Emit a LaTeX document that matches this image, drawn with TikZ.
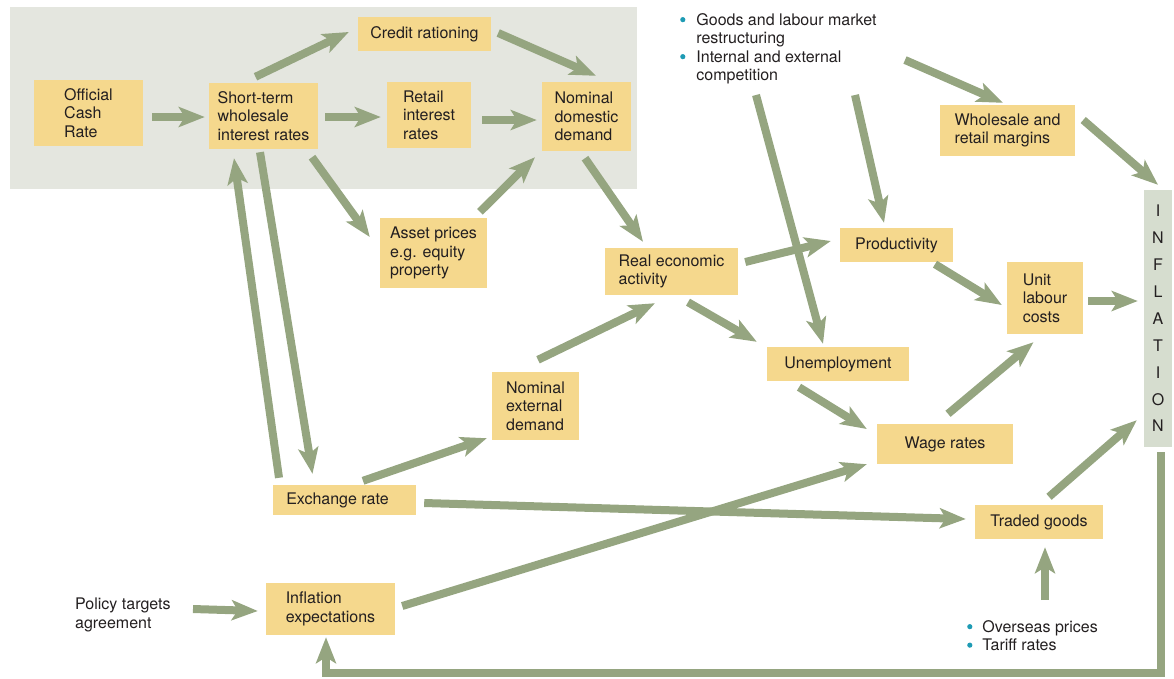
\documentclass[tikz,border=0pt]{standalone}
\usepackage{fontspec}
\setmainfont{TeX Gyre Heros}
\usetikzlibrary{arrows.meta,calc}
\definecolor{arrc}{RGB}{149,165,128}
\definecolor{boxc}{RGB}{245,216,141}
\definecolor{panelc}{RGB}{228,230,223}
\definecolor{inflc}{RGB}{214,221,207}
\definecolor{bulc}{RGB}{30,155,180}
\definecolor{txtc}{RGB}{35,31,32}
\newcommand{\bul}{\tikz[x=1pt,y=1pt,baseline=-5.5pt]\fill[bulc] (2.6,0) circle (2.6pt);}
\begin{document}
\begin{tikzpicture}[x=1pt,y=-1pt,
  every node/.style={font=\fontsize{16}{18.5}\selectfont, text=txtc},
  box/.style={fill=boxc, inner sep=0pt, align=left},
  plain/.style={inner sep=0pt, align=left},
  arr/.style={draw=arrc, line width=8pt, -{Stealth[length=26pt,width=20pt,inset=6pt]}},
]
\useasboundingbox (0,0) rectangle (1174,678);
\fill[panelc] (10,7) rectangle (637,189);

% boxes
\node[box, minimum width=109pt, minimum height=66pt] (ocr) at (88.5,113) {Official\\Cash\\Rate};
\node[box, minimum width=109pt, minimum height=66pt] (stw) at (263.5,116) {Short-term\\wholesale\\interest rates};
\node[box, minimum width=133pt, minimum height=34pt] (credit) at (424.5,34) {Credit rationing};
\node[box, minimum width=84pt, minimum height=66pt] (retail) at (429,115) {Retail\\interest\\rates};
\node[box, minimum width=89pt, minimum height=69pt] (ndd) at (586.5,116.5) {Nominal\\domestic\\demand};
\node[box, minimum width=107pt, minimum height=70pt] (asset) at (433.5,253) {Asset prices\\e.g. equity\\property};
\node[box, minimum width=133pt, minimum height=47pt] (real) at (671.5,271.5) {Real economic\\activity};
\node[box, minimum width=113pt, minimum height=34pt] (prod) at (896.5,245) {Productivity};
\node[box, minimum width=135pt, minimum height=51pt] (whole) at (1007.5,130.5) {Wholesale and\\retail margins};
\node[box, minimum width=76pt, minimum height=72pt] (ulc) at (1045,298) {Unit\\labour\\costs};
\node[fill=inflc, inner sep=0pt, align=center, minimum width=28pt, minimum height=257pt,
      font=\fontsize{16}{26.9}\selectfont] (infl) at (1158,318.5) {I\\N\\F\\L\\A\\T\\I\\O\\N};
\node[box, minimum width=142pt, minimum height=34pt] (unemp) at (838,364) {Unemployment};
\node[box, minimum width=87pt, minimum height=68pt] (ned) at (535.5,406) {Nominal\\external\\demand};
\node[box, minimum width=136pt, minimum height=40pt] (wage) at (945,444) {Wage rates};
\node[box, minimum width=143pt, minimum height=30pt] (exch) at (344.5,500) {Exchange rate\hspace{14pt}};
\node[box, minimum width=128pt, minimum height=34pt] (traded) at (1039,522) {Traded goods};
\node[box, minimum width=129pt, minimum height=52pt] (infexp) at (330.5,609) {Inflation\\expectations};

% plain texts
\node[plain, anchor=north west] (pol) at (75,598) {Policy targets\\agreement};
\node[plain, anchor=north west] (topb) at (680,12) {%
  \begin{tabular}{@{}l@{\hspace{11pt}}l@{}}
  \bul & Goods and labour market\\
       & restructuring\\
  \bul & Internal and external\\
       & competition
  \end{tabular}};
\node[plain, anchor=north west] (botb) at (967,619) {%
  \begin{tabular}{@{}l@{\hspace{10pt}}l@{}}
  \bul & Overseas prices\\
  \bul & Tariff rates
  \end{tabular}};

% arrows
\draw[arr] ([shift={(9,4)}]ocr.east) -- ([shift={(-4,1)}]stw.west);
\draw[arr] ([shift={(-8,-6)}]stw.north) -- ([shift={(-9,-2)}]credit.west);
\draw[arr] ([shift={(7,1)}]stw.east) -- ([shift={(-6,2)}]retail.west);
\draw[arr] ([shift={(7,-1)}]credit.east) -- ([shift={(9.5,-6)}]ndd.north);
\draw[arr] ([shift={(11,5)}]retail.east) -- ([shift={(-5,3.5)}]ndd.west);
\draw[arr] ([shift={(48.5,8)}]stw.south) -- ([shift={(-10,-16)}]asset.west);
\draw[arr] ([shift={(46.5,-6)}]asset.north) -- ([shift={(-51.5,6)}]ndd.south);
\draw[arr] ([shift={(-1.5,7)}]ndd.south) -- ([shift={(-28.5,-6)}]real.north);
\draw[arr] ([shift={(-65.5,-7)}]exch.north) -- ([shift={(-29.5,9)}]stw.south);
\draw[arr] ([shift={(-3.5,3)}]stw.south) -- ([shift={(-32,-11)}]exch.north);
\draw[arr] ([shift={(18.5,-4)}]exch.north) -- ([shift={(-5,-2)}]ned.south west);
\draw[arr] ([shift={(2.5,-12)}]ned.north) -- ([shift={(-16.5,8)}]real.south);
\draw[arr] ([shift={(7,-9.5)}]real.east) -- ([shift={(-9,-4)}]prod.west);
\draw[arr] ([shift={(16.5,7)}]real.south) -- ([shift={(-10,-5)}]unemp.north west);
\draw[arr] ([shift={(76,83)}]topb.north west) -- ([shift={(-15,-3)}]unemp.north);
\draw[arr] ([shift={(175,83)}]topb.north west) -- ([shift={(-12.5,-5)}]prod.north);
\draw[arr] ([shift={(225,48)}]topb.north west) -- ([shift={(-4.5,-2)}]whole.north);
\draw[arr] ([shift={(8,-10.5)}]whole.east) -- ([shift={(0,-5)}]infl.north);
\draw[arr] ([shift={(38.5,2)}]prod.south) -- ([shift={(-5,7)}]ulc.west);
\draw[arr] ([shift={(5,3)}]ulc.east) -- ([shift={(-6,-17.5)}]infl.west);
\draw[arr] ([shift={(-39,6)}]unemp.south) -- ([shift={(-10,-15)}]wage.west);
\draw[arr] ([shift={(3,-10)}]wage.north) -- ([shift={(-11.5,8)}]ulc.south);
\draw[arr] ([shift={(7,-3)}]infexp.east) -- ([shift={(-10,0)}]wage.south west);
\draw[arr] ([shift={(8,3)}]exch.east) -- ([shift={(-9,-3)}]traded.west);
\draw[arr] ([shift={(10,-8)}]traded.north) -- ([shift={(-7,-27)}]infl.south west);
\draw[arr] ([shift={(78,-19)}]botb.north west) -- ([shift={(6,8)}]traded.south);
\draw[arr] ([shift={(118,11)}]pol.north west) -- ([shift={(-8,2)}]infexp.west);
\draw[arr] ([shift={(3,5)}]infl.south) -- ++(0,221) -| ([shift={(-4.5,2)}]infexp.south);
\end{tikzpicture}
\end{document}
